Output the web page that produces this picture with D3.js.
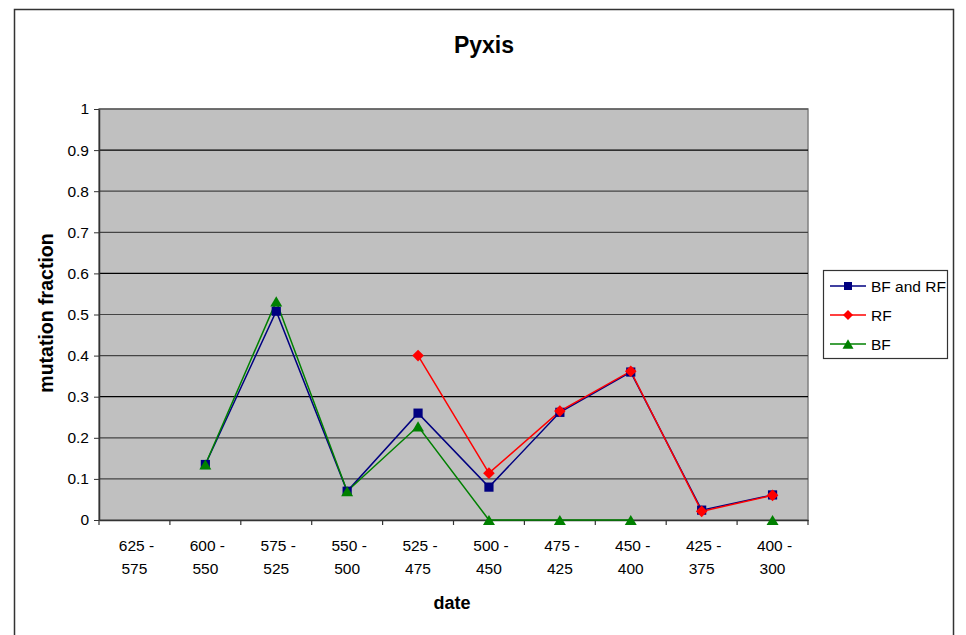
<!DOCTYPE html>
<html><head><meta charset="utf-8">
<script src="https://cdn.jsdelivr.net/npm/d3@7"></script>
<style>
body{margin:0;background:#fff;}
svg{display:block;font-family:"Liberation Sans",Arial,sans-serif;}
</style></head>
<body>
<svg id="c" width="966" height="635"></svg>
<script>
const categories = ["625 - 575","600 - 550","575 - 525","550 - 500","525 - 475","500 - 450","475 - 425","450 - 400","425 - 375","400 - 300"];
const bfAndRf = [null,0.135,0.508,0.07,0.26,0.08,0.262,0.36,0.024,0.061];
const rf      = [null,null,null,null,0.40,0.114,0.265,0.362,0.021,0.06];
const bf      = [null,0.135,0.532,0.07,0.228,0,0,0,null,0];
const yTicks = [0,0.1,0.2,0.3,0.4,0.5,0.6,0.7,0.8,0.9,1];
const yTickLabels = ["0","0.1","0.2","0.3","0.4","0.5","0.6","0.7","0.8","0.9","1"];
const seriesNames = ["BF and RF","RF","BF"];

const svg = d3.select("#c");
svg.append("rect").attr("x",14.5).attr("y",9.5).attr("width",939).attr("height",640)
  .attr("fill","#fff").attr("stroke","#333").attr("stroke-width",1.5);

const L=99,R=808,T=109,B=520;
const x = d3.scaleBand().domain(categories).range([L,R]);
const y = d3.scaleLinear().domain([0,1]).range([B,T]);

svg.append("rect").attr("x",L).attr("y",T).attr("width",R-L).attr("height",B-T)
  .attr("fill","#c0c0c0").attr("stroke","#808080").attr("stroke-width",1.5);

svg.append("g").selectAll("line").data(yTicks.filter(d=>d>0)).join("line")
  .attr("x1",L).attr("x2",R).attr("y1",d=>y(d)).attr("y2",d=>y(d))
  .attr("stroke",d=> (Math.round(d*10)%3===0)?"#000":"#444").attr("stroke-width",1.2);

const yAxis = d3.axisLeft(y).tickValues(yTicks).tickFormat((d,i)=>yTickLabels[i]).tickSize(5).tickSizeOuter(0);
const gy = svg.append("g").attr("transform",`translate(${L},0)`).call(yAxis);
gy.select(".domain").attr("stroke","#333").attr("stroke-width",1.5);
gy.selectAll(".tick line").attr("stroke","#333");
gy.selectAll("text").attr("font-size",15.5).attr("fill","#000").attr("dx",-2).attr("font-family","Liberation Sans, Arial, sans-serif");

const xAxis = d3.axisBottom(x).tickSize(0).tickSizeOuter(0);
const gx = svg.append("g").attr("transform",`translate(0,${B})`).call(xAxis);
gx.select(".domain").attr("stroke","#333").attr("stroke-width",1.5);
gx.selectAll(".tick text").remove();
const bounds = categories.map(c=>x(c)).concat([R]);
svg.append("g").selectAll("line").data(bounds).join("line")
  .attr("x1",d=>d).attr("x2",d=>d).attr("y1",B).attr("y2",B+5).attr("stroke","#333").attr("stroke-width",1.2);
const lab = svg.append("g").selectAll("text").data(categories).join("text")
  .attr("x",d=>x(d)+x.bandwidth()/2).attr("y",B+31)
  .attr("text-anchor","middle").attr("font-size",15.5).attr("fill","#000");
lab.each(function(d){
  const parts = d.split(" - ");
  const t = d3.select(this);
  t.append("tspan").attr("x",x(d)+x.bandwidth()/2).attr("dx",2).text(parts[0]+" -");
  t.append("tspan").attr("x",x(d)+x.bandwidth()/2).attr("dy",23).text(parts[1]);
});

svg.append("text").attr("x",484).attr("y",53).attr("text-anchor","middle")
  .attr("font-size",23).attr("font-weight","bold").text("Pyxis");
svg.append("text").attr("x",452).attr("y",609).attr("text-anchor","middle")
  .attr("font-size",18).attr("font-weight","bold").text("date");
svg.append("text").attr("transform","translate(53,313) rotate(-90)").attr("text-anchor","middle")
  .attr("font-size",19.5).attr("font-weight","bold").text("mutation fraction");

function markerPath(kind, s){
  if(kind==="square") return `M${-s},${-s}H${s}V${s}H${-s}Z`;
  if(kind==="diamond") return `M0,${-s}L${s},0L0,${s}L${-s},0Z`;
  const h = s*0.85;
  return `M0,${-h}L${s},${h}L${-s},${h}Z`;
}

const series = [
  {name:seriesNames[0], vals:bfAndRf, color:"#000080", kind:"square", s:4.6},
  {name:seriesNames[2], vals:bf, color:"#008000", kind:"triangle", s:6},
  {name:seriesNames[1], vals:rf, color:"#ff0000", kind:"diamond", s:5.8}
];
const line = d3.line().defined(d=>d.v!==null).x(d=>x(d.c)+x.bandwidth()/2).y(d=>y(d.v));
series.forEach(s=>{
  const pts = categories.map((c,i)=>({c, v:s.vals[i]}));
  svg.append("path").datum(pts).attr("d",line).attr("fill","none").attr("stroke",s.color).attr("stroke-width",1.5);
});
series.forEach(s=>{
  const pts = categories.map((c,i)=>({c, v:s.vals[i]})).filter(d=>d.v!==null);
  svg.append("g").selectAll("path").data(pts).join("path")
    .attr("transform",d=>`translate(${x(d.c)+x.bandwidth()/2},${y(d.v)})`)
    .attr("d",markerPath(s.kind,s.s)).attr("fill",s.color);
});

const lg = svg.append("g");
lg.append("rect").attr("x",823.5).attr("y",270.5).attr("width",124).attr("height",88)
  .attr("fill","#fff").attr("stroke","#333").attr("stroke-width",1.2);
const legItems = [
  {name:seriesNames[0], color:"#000080", kind:"square", s:4},
  {name:seriesNames[1], color:"#ff0000", kind:"diamond", s:5},
  {name:seriesNames[2], color:"#008000", kind:"triangle", s:5.5}
];
legItems.forEach((it,i)=>{
  const yy = 286 + i*29;
  lg.append("line").attr("x1",830).attr("x2",866).attr("y1",yy).attr("y2",yy).attr("stroke",it.color).attr("stroke-width",1.5);
  lg.append("path").attr("transform",`translate(848,${yy})`).attr("d",markerPath(it.kind,it.s)).attr("fill",it.color);
  lg.append("text").attr("x",871).attr("y",yy+5.5).attr("font-size",15.5).text(it.name);
});
</script>
</body></html>
